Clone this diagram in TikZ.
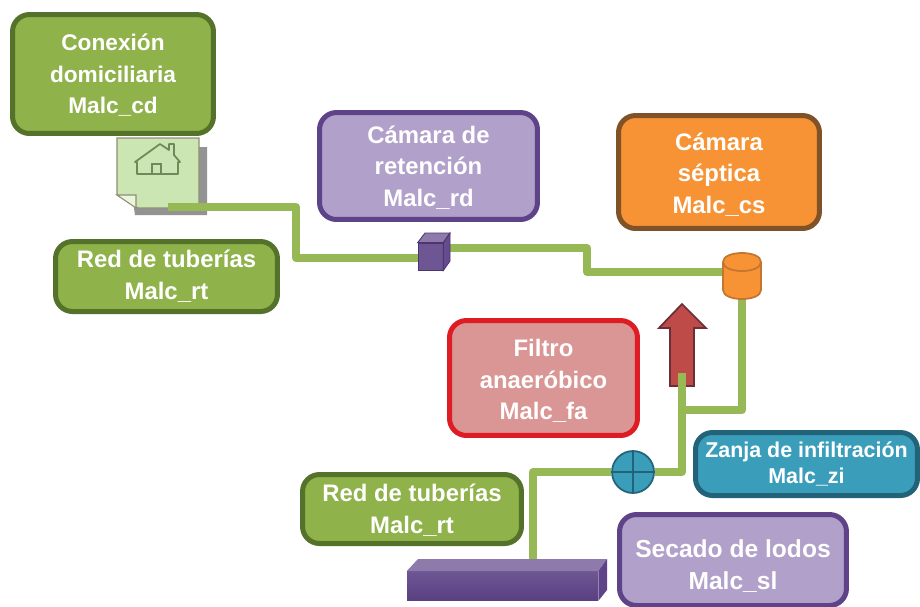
\documentclass[tikz,border=0pt]{standalone}
\usepackage{fontspec}
\setmainfont{Liberation Sans}
\usepackage{tikz}

\definecolor{verdeF}{HTML}{8FB24A}
\definecolor{verdeB}{HTML}{55722A}
\definecolor{tubo}{HTML}{96B956}
\definecolor{moradoF}{HTML}{B1A0C9}
\definecolor{moradoB}{HTML}{5E4388}
\definecolor{naranjaF}{HTML}{F79334}
\definecolor{naranjaB}{HTML}{7F5228}
\definecolor{tanqueB}{HTML}{C4752F}
\definecolor{rojoF}{HTML}{D99694}
\definecolor{rojoB}{HTML}{DE1C24}
\definecolor{flechaF}{HTML}{BE4B48}
\definecolor{flechaB}{HTML}{6B2F38}
\definecolor{azulF}{HTML}{3A9EBA}
\definecolor{azulB}{HTML}{23637A}
\definecolor{casaB}{HTML}{6F8A5A}

\newcommand{\bajar}[1]{\rule{0pt}{#1}}

\tikzset{
  caja/.style={draw, rounded corners=17*0.02cm, line width=5*0.02cm, align=center,
    text=white, font=\fontsize{13.6}{18}\selectfont\bfseries, inner sep=0pt},
  tuberia/.style={draw=tubo, line width=8*0.02cm, line join=round}
}

\begin{document}
\begin{tikzpicture}[x=0.02cm,y=-0.02cm]
  \useasboundingbox (0,0) rectangle (920,606);

  \node[caja,fill=verdeF,draw=verdeB,minimum width=4.02cm,minimum height=2.38cm,font=\fontsize{12.9}{18}\selectfont\bfseries] (cd) at (113,74) {\bajar{11pt}Conexión\\domiciliaria\\Malc\_cd};
  \node[caja,fill=verdeF,draw=verdeB,minimum width=4.44cm,minimum height=1.4cm] (rtuno) at (166.5,276.5) {Red de tuberías\\Malc\_rt};
  \node[caja,fill=moradoF,draw=moradoB,minimum width=4.36cm,minimum height=2.14cm] (rd) at (428.5,166) {\bajar{11.5pt}Cámara de\\retención\\Malc\_rd};
  \node[caja,fill=naranjaF,draw=naranjaB,minimum width=4.02cm,minimum height=2.26cm] (cs) at (719,172) {\bajar{12.8pt}Cámara\\séptica\\Malc\_cs};
  \node[caja,fill=rojoF,draw=rojoB,minimum width=3.76cm,minimum height=2.3cm] (fa) at (543.5,378) {\bajar{13.2pt}Filtro\\anaeróbico\\Malc\_fa};
  \node[caja,fill=azulF,draw=azulB,minimum width=4.44cm,minimum height=1.26cm,font=\fontsize{12.2}{15.2}\selectfont\bfseries] (zi) at (806.5,464) {Zanja de infiltración\\Malc\_zi};
  \node[caja,fill=verdeF,draw=verdeB,minimum width=4.38cm,minimum height=1.38cm] (rtdos) at (412,509) {\bajar{11pt}Red de tuberías\\Malc\_rt};
  \node[caja,fill=moradoF,draw=moradoB,minimum width=4.54cm,minimum height=1.82cm,font=\fontsize{14}{18}\selectfont\bfseries] (sl) at (733,560) {\bajar{17pt}Secado de lodos\\Malc\_sl};

  % hoja con la casa
  \fill[gray!85] (125,147) -- (207,147) -- (207,215) -- (135,215) -- cycle;
  \filldraw[fill=green!35!olive!30,draw=gray!80!olive,line width=0.6pt] (117,138) -- (199,138) -- (199,208) -- (138,208) -- (117,195) -- cycle;
  \filldraw[fill=green!35!olive!12,draw=gray!80!olive,line width=0.6pt] (117,195) -- (136,195) -- (136,208) -- cycle;
  \draw[draw=casaB,line width=1pt,line join=round] (135,162) -- (160,144) -- (169,150) -- (169,144) -- (174,144) -- (174,155) -- (180,162) -- (178,162) -- (178,174) -- (137,174) -- (137,162) -- cycle;
  \draw[draw=casaB,line width=1pt] (152,174) rectangle (161,164);
  \coordinate (hoja) at (168,207);

  \node[draw=moradoB!80!black,fill=moradoB!90,minimum width=0.5cm,minimum height=0.54cm,inner sep=0pt] (cubo) at (430.5,256.5) {};
  \node[minimum width=0.76cm,minimum height=0.92cm,inner sep=0pt] (tanque) at (742,276) {};
  \node[circle,draw=azulB,fill=azulF,line width=1pt,minimum size=0.84cm,inner sep=0pt] (valvula) at (633,472) {};
  \draw[azulB,line width=1pt] (valvula.north) -- (valvula.south) (valvula.west) -- (valvula.east);

  \filldraw[fill=flechaF,draw=flechaB,line width=1pt,line join=miter] (682,304) -- (706,328) -- (694,328) -- (694,386) -- (670,386) -- (670,328) -- (659,328) -- cycle;
  \coordinate (flecha) at (682,373);
  \coordinate (union) at (682,410);

  \node[minimum width=3.82cm,minimum height=0.58cm,inner sep=0pt,top color=moradoB!90,bottom color=moradoB!95!black] (lecho) at (502.5,586) {};
  \coordinate (lechotop) at (533,559);

  \draw[tuberia] (hoja) -- (296,207) -- (296,258) -- (cubo.west |- 0,258);
  \draw[tuberia] (cubo.east |- 0,248) -- (587,248) -- (587,272) -- (tanque.west |- 0,272);
  \draw[tuberia] (tanque.south) -- (742,410) -- (union);
  \draw[tuberia] (flecha) -- (682,472) -- (valvula.east);
  \draw[tuberia] (valvula.west) -- (533,472) -- (lechotop);

  \filldraw[fill=naranjaF,draw=tanqueB,line width=1pt] (723,262) -- (723,290) .. controls (723,302) and (761,302) .. (761,290) -- (761,262) .. controls (761,250) and (723,250) .. (723,262) .. controls (723,274) and (761,274) .. (761,262);

  \filldraw[fill=moradoB!70,draw=moradoB!80!black,line width=0.5pt] (cubo.north west) -- (425,233) -- (450,233) -- (cubo.north east) -- cycle;
  \filldraw[fill=moradoB!95,draw=moradoB!80!black,line width=0.5pt] (cubo.north east) -- (450,233) -- (450,261) -- (cubo.south east) -- cycle;
  \fill[moradoB!70] (lecho.north west) -- (418,559) -- (607,559) -- (lecho.north east) -- cycle;
  \fill[moradoB] (lecho.north east) -- (607,559) -- (607,590) -- (lecho.south east) -- cycle;
\end{tikzpicture}
\end{document}
